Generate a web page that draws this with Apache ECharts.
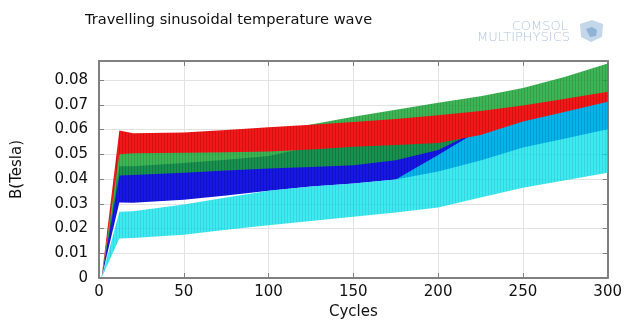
<!DOCTYPE html>
<html>
<head>
<meta charset="utf-8">
<script src="https://cdn.jsdelivr.net/npm/echarts@6/dist/echarts.min.js"></script>
<style>
  html, body { margin: 0; padding: 0; background: #fff; }
  #chart { width: 625px; height: 325px; }
</style>
</head>
<body>
<div id="chart"></div>
<script>
// 周期 (x 采样点)
const cycles = [1.5, 12, 20, 50, 75, 100, 125, 150, 175, 200, 225, 250, 275, 300]
// 各条带的上下包络 (Tesla)
const redUpper = [0, 0.0596, 0.0585, 0.0588, 0.0598, 0.0609, 0.0619, 0.0630, 0.0643, 0.0658, 0.0675, 0.0697, 0.0724, 0.0753]
const redLower = [0, 0.0500, 0.0504, 0.0506, 0.0508, 0.0511, 0.0519, 0.0530, 0.0538, 0.0546, 0.0578, 0.0632, 0.0672, 0.0712]
const greenUpper = [0, 0.0530, 0.0540, 0.0555, 0.0570, 0.0590, 0.0620, 0.0652, 0.0680, 0.0708, 0.0735, 0.0768, 0.0813, 0.0867]
const greenLower = [0, 0.0414, 0.0416, 0.0425, 0.0434, 0.0443, 0.0449, 0.0456, 0.0476, 0.0517, 0.0600, 0.0660, 0.0700, 0.0730]
const blueUpper = [0, 0.0452, 0.0452, 0.0465, 0.0478, 0.0493, 0.0530, 0.0560, 0.0580, 0.0600, 0.0630, 0.0670, 0.0710, 0.0740]
const blueLower = [0, 0.0305, 0.0304, 0.0316, 0.0333, 0.0353, 0.0370, 0.0382, 0.0398, 0.0430, 0.0475, 0.0527, 0.0564, 0.0601]
const cyanUpper = [0, 0.0268, 0.0270, 0.0297, 0.0325, 0.0353, 0.0370, 0.0382, 0.0398, 0.0497, 0.0600, 0.0650, 0.0690, 0.0730]
const cyanLower = [0, 0.0160, 0.0162, 0.0175, 0.0195, 0.0213, 0.0230, 0.0248, 0.0265, 0.0285, 0.0325, 0.0365, 0.0395, 0.0425]

const font = 'DejaVu Sans'
const frameColor = '#808080'
const gridColor = '#e3e3e3'

// 竖条纹理 (模拟密集的振荡线)
function stripes(color, dark) {
  const cv = document.createElement('canvas')
  cv.width = 3
  cv.height = 4
  const ctx = cv.getContext('2d')
  ctx.fillStyle = color
  ctx.fillRect(0, 0, 3, 4)
  ctx.fillStyle = dark
  ctx.fillRect(2, 0, 1, 4)
  return { image: cv, repeat: 'repeat' }
}

// 一个条带: 上包络 -> 下包络 围成的多边形
function band(name, lower, upper, fill, opacity) {
  return {
    type: 'custom',
    name: name,
    silent: true,
    data: cycles.map((c, i) => [c, lower[i], upper[i]]),
    encode: { x: 0, y: [1, 2] },
    renderItem: (params, api) => {
      if (params.dataIndex !== 0) return
      const top = cycles.map((c, i) => api.coord([c, upper[i]]))
      const bottom = cycles.map((c, i) => api.coord([c, lower[i]])).reverse()
      return {
        type: 'polygon',
        shape: { points: top.concat(bottom) },
        style: { fill: fill, opacity: opacity },
      }
    },
  }
}

function axisFrame(extra) {
  return Object.assign({
    axisLine: { show: true, onZero: false, lineStyle: { color: frameColor, width: 2 } },
    axisTick: { show: true, inside: true, length: 5, lineStyle: { color: frameColor, width: 1 } },
  }, extra)
}

let myChart = echarts.init(document.getElementById('chart'))
let option = {
  animation: false,
  title: {
    text: 'Travelling sinusoidal temperature wave',
    left: 80,
    top: 8,
    textStyle: { fontFamily: font, fontSize: 14.6, fontWeight: 'normal', color: '#111' },
  },
  grid: { left: 99, right: 16, top: 61, bottom: 47 },
  xAxis: [
    axisFrame({
      type: 'value', min: 0, max: 300, interval: 50, position: 'bottom',
      name: 'Cycles', nameLocation: 'middle', nameGap: 20,
      nameTextStyle: { fontFamily: font, fontSize: 15, color: '#111' },
      axisLabel: { fontFamily: font, fontSize: 15, color: '#111', margin: 7 },
      splitLine: { show: true, lineStyle: { color: gridColor } },
    }),
    axisFrame({
      type: 'value', min: 0, max: 300, interval: 50, position: 'top',
      axisLabel: { show: false }, splitLine: { show: false },
    }),
  ],
  yAxis: [
    axisFrame({
      type: 'value', min: 0, max: 0.0877, interval: 0.01, position: 'left',
      name: 'B(Tesla)', nameLocation: 'middle', nameGap: 74, nameRotate: 90,
      nameTextStyle: { fontFamily: font, fontSize: 15, color: '#111' },
      axisLabel: {
        fontFamily: font, fontSize: 15, color: '#111', margin: 11, showMaxLabel: false,
        formatter: v => (v === 0 ? '0' : v.toFixed(2)),
      },
      splitLine: { show: true, lineStyle: { color: gridColor } },
    }),
    axisFrame({
      type: 'value', min: 0, max: 0.0877, interval: 0.01, position: 'right',
      axisLabel: { show: false }, splitLine: { show: false },
    }),
  ],
  series: [
    band('blue', blueLower, blueUpper, stripes('#1818e4', '#1010c4'), 1),
    band('green', greenLower, greenUpper, stripes('#1aa937', '#148c2c'), 0.85),
    band('cyan', cyanLower, cyanUpper, stripes('#00e5eb', '#00c6d6'), 0.77),
    band('red', redLower, redUpper, stripes('#f01818', '#d41010'), 1),
  ],
  graphic: [
    {
      type: 'text', right: 57, top: 20,
      style: { text: 'COMSOL', fontFamily: font, fontSize: 13, fill: '#b0c6de', fontWeight: 'lighter' },
    },
    {
      type: 'text', right: 55, top: 31,
      style: { text: 'MULTIPHYSICS', fontFamily: font, fontSize: 13, fill: '#b0c6de', fontWeight: 'lighter' },
    },
    {
      type: 'polygon', left: 580, top: 20,
      shape: { points: [[0, 4], [12, 0], [23, 4], [22, 17], [11, 22], [1, 17]] },
      style: { fill: '#c3d6ea' },
    },
    {
      type: 'polygon', left: 586, top: 27,
      shape: { points: [[0, 2], [6, 0], [11, 3], [10, 9], [4, 10]] },
      style: { fill: '#8fb2d6' },
    },
  ],
}
option && myChart.setOption(option)
</script>
</body>
</html>
